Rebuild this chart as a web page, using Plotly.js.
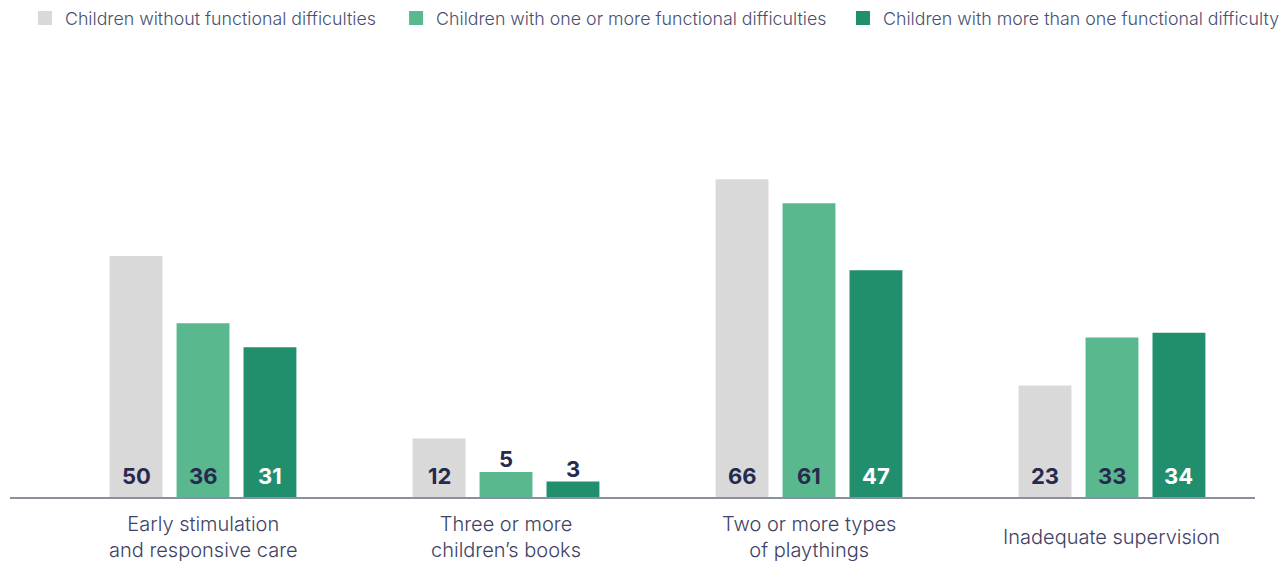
<!DOCTYPE html>
<html>
<head>
<meta charset="utf-8">
<script src="https://cdn.plot.ly/plotly-3.0.1.min.js"></script>
<style>html,body{margin:0;padding:0;background:#fff;}#chart{width:1286px;height:561px;}</style>
</head>
<body>
<div id="chart"></div>
<script>
const categories = ["Early stimulation<br>and responsive care", "Three or more<br>children’s books", "Two or more types<br>of playthings", "Inadequate supervision"];
const seriesNames = ["Children without functional difficulties", "Children with one or more functional difficulties", "Children with more than one functional difficulty"];
const withoutDifficulties = [50, 12, 66, 23];
const oneOrMore = [36, 5, 61, 33];
const moreThanOne = [31, 3, 47, 34];

const seriesValues = [withoutDifficulties, oneOrMore, moreThanOne];
const colors = ["#D9D9D9", "#5AB88F", "#218F6E"];
const labelColors = ["#262A4F", "#262A4F", "#FFFFFF"];
const navy = "#262A4F";
const FONT = "Inter, Liberation Sans, Arial, sans-serif";
const legendIds = ["legend", "legend2", "legend3"];
const legendX = [0.0194, 0.308, 0.6555];

const bargap = 0.337;
const slot = (1 - bargap) / 3;

const traces = seriesValues.map((vals, j) => ({
  type: "bar",
  name: seriesNames[j],
  legend: legendIds[j],
  x: categories,
  y: vals,
  marker: {color: colors[j], line: {color: colors[j], width: 2}},
  hoverinfo: "none"
}));

const annotations = [];
seriesValues.forEach((vals, j) => {
  vals.forEach((v, i) => {
    const small = v < 8;
    annotations.push({
      x: i + (j - 1) * slot,
      xref: "x",
      y: small ? v : 0,
      yref: "y",
      text: "<b>" + v + "</b>",
      showarrow: false,
      yanchor: "middle",
      yshift: small ? 14 : 21,
      font: {family: FONT, size: 22, color: small ? navy : labelColors[j]}
    });
  });
});

categories.forEach((c, i) => {
  annotations.push({
    x: i, xref: "x",
    y: 0, yref: "y",
    text: c,
    showarrow: false,
    yanchor: "middle",
    yshift: -40,
    font: {family: FONT, size: 20, weight: 300, color: "#3D4266"}
  });
});

const layout = {
  width: 1286,
  height: 561,
  margin: {l: 10, r: 31, t: 111, b: 64},
  paper_bgcolor: "#fff",
  plot_bgcolor: "#fff",
  barmode: "group",
  bargap: bargap,
  bargroupgap: 0.24,
  showlegend: true,
  xaxis: {
    type: "category",
    range: [-0.637, 3.472],
    showline: true, linecolor: "#8A8FA3", linewidth: 1.5,
    ticks: "", showgrid: false, zeroline: false,
    showticklabels: false,
    fixedrange: true
  },
  yaxis: {
    range: [0, 80.4],
    visible: false,
    showgrid: false, zeroline: false,
    fixedrange: true
  },
  annotations: annotations
};

legendIds.forEach((id, j) => {
  layout[id] = {
    orientation: "h",
    xref: "container", x: legendX[j], xanchor: "left",
    yref: "container", y: 1, yanchor: "top",
    font: {family: FONT, size: 17.8, weight: 300, color: "#4A4F70"},
    itemclick: false, itemdoubleclick: false
  };
});

Plotly.newPlot("chart", traces, layout, {displayModeBar: false, staticPlot: true});
</script>
</body>
</html>
